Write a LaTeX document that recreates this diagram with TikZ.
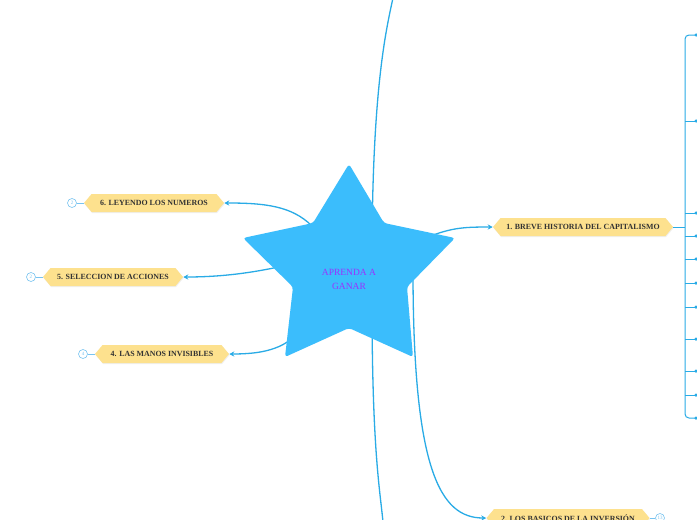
\documentclass[tikz,border=0pt]{standalone}
\usepackage{fontspec}
\setmainfont{Liberation Serif}
\usetikzlibrary{shapes.symbols,arrows.meta,shadows}
\definecolor{linkblue}{RGB}{41,171,230}
\definecolor{starblue}{RGB}{59,189,252}
\definecolor{tagfill}{RGB}{253,225,142}
\definecolor{txtviolet}{RGB}{155,48,255}
\definecolor{numblue}{RGB}{120,195,240}
\begin{document}
\begin{tikzpicture}[x=1pt,y=-1pt,
  link/.style={draw=linkblue,line width=1.3pt},
  arrowlink/.style={link,-{Stealth[length=5pt,width=5pt]}},
  topic/.style={shape=signal,signal to=west and east,signal pointer angle=100,
    fill=tagfill,minimum height=18pt,inner sep=0pt,
    font=\bfseries\fontsize{7.9}{9}\selectfont,text=black!80,
    drop shadow={opacity=0.12,shadow xshift=0.6pt,shadow yshift=-1pt}},
  badge/.style={circle,draw=numblue,fill=white,line width=0.6pt,minimum size=9pt,
    inner sep=0pt,font=\fontsize{5}{5}\selectfont,text=numblue},
  leaf/.style={circle,fill=linkblue,minimum size=3.5pt,inner sep=0pt},
  bracket/.style={draw=linkblue,line width=1pt}]
\useasboundingbox (0,0) rectangle (697,520);
\clip (0,0) rectangle (697,520);
\fill[white] (0,0) rectangle (697,520);

% hub coordinates (hidden behind the star)
\coordinate (hubT) at (372,260);
\coordinate (hubB) at (372,300);
\coordinate (hubR) at (413,270);
\coordinate (hub1) at (420,240);
\coordinate (hub6) at (312,226);
\coordinate (hub5) at (300,262);
\coordinate (hub4) at (300,330);
\coordinate (upend) at (393,-2);
\coordinate (downend) at (383,522);

% topics
\node[topic,minimum width=140pt] (n6) at (154,203) {6. LEYENDO LOS NUMEROS};
\node[topic,minimum width=140pt] (n5) at (113,277) {5. SELECCION DE ACCIONES};
\node[topic,minimum width=134pt] (n4) at (162,354) {4. LAS MANOS INVISIBLES};
\node[topic,minimum width=180pt] (n1) at (583,227) {1. BREVE HISTORIA DEL CAPITALISMO};
\node[topic,minimum width=163pt] (n2) at (568,518) {2. LOS BASICOS DE LA INVERSIÓN};

% connectors from the centre
\draw[link] (hubT) .. controls (372,90) and (386,30) .. (upend);
\draw[link] (hubB) .. controls (372,450) and (380,490) .. (downend);
\draw[arrowlink] (hubR) .. controls (413,470) and (440,518) .. (n2.west);
\draw[arrowlink] (hub1) .. controls (450,228) and (460,227) .. (n1.west);
\draw[arrowlink] (hub6) .. controls (292,206) and (265,203) .. (n6.east);
\draw[arrowlink] (hub5) .. controls (260,272) and (225,277) .. (n5.east);
\draw[arrowlink] (hub4) .. controls (285,350) and (260,354) .. (n4.east);

% star
\fill[starblue,rounded corners=3pt] (349,164) -- (384,223) -- (455,238) -- (407,287)
  -- (413,357) -- (349,328) -- (285,357) -- (293,287) -- (243,238) -- (313,223) -- cycle;
\node[align=center,text=txtviolet,font=\fontsize{9.5}{14}\selectfont] (core) at (349,279)
  {APRENDA A\\GANAR};

% badges
\node[badge] (b6) at (72,203) {2};
\node[badge] (b5) at (31,277) {2};
\node[badge] (b4) at (83,354) {4};
\node[badge] (b2) at (660,518) {13};
\draw[draw=numblue,line width=0.8pt] (b6) -- (n6.west);
\draw[draw=numblue,line width=0.8pt] (b5) -- (n5.west);
\draw[draw=numblue,line width=0.8pt] (b4) -- (n4.west);
\draw[draw=numblue,line width=0.8pt] (n2.east) -- (b2);

% bracket of subtopics
\coordinate (br) at (685,227);
\draw[bracket] (n1.east) -- (br);
\node[leaf] (l1) at (696,35) {};
\node[leaf] (l11) at (696,418) {};
\draw[bracket,rounded corners=4pt] (l1.center) -- (685,35) -- (685,418) -- (l11.center);
\foreach \k/\yy in {2/121,3/213,4/236,5/259,6/283,7/307,8/339,9/371,10/395}{
  \node[leaf] (l\k) at (696,\yy) {};
  \draw[bracket] (685,\yy) -- (l\k.center);
}
\end{tikzpicture}
\end{document}
